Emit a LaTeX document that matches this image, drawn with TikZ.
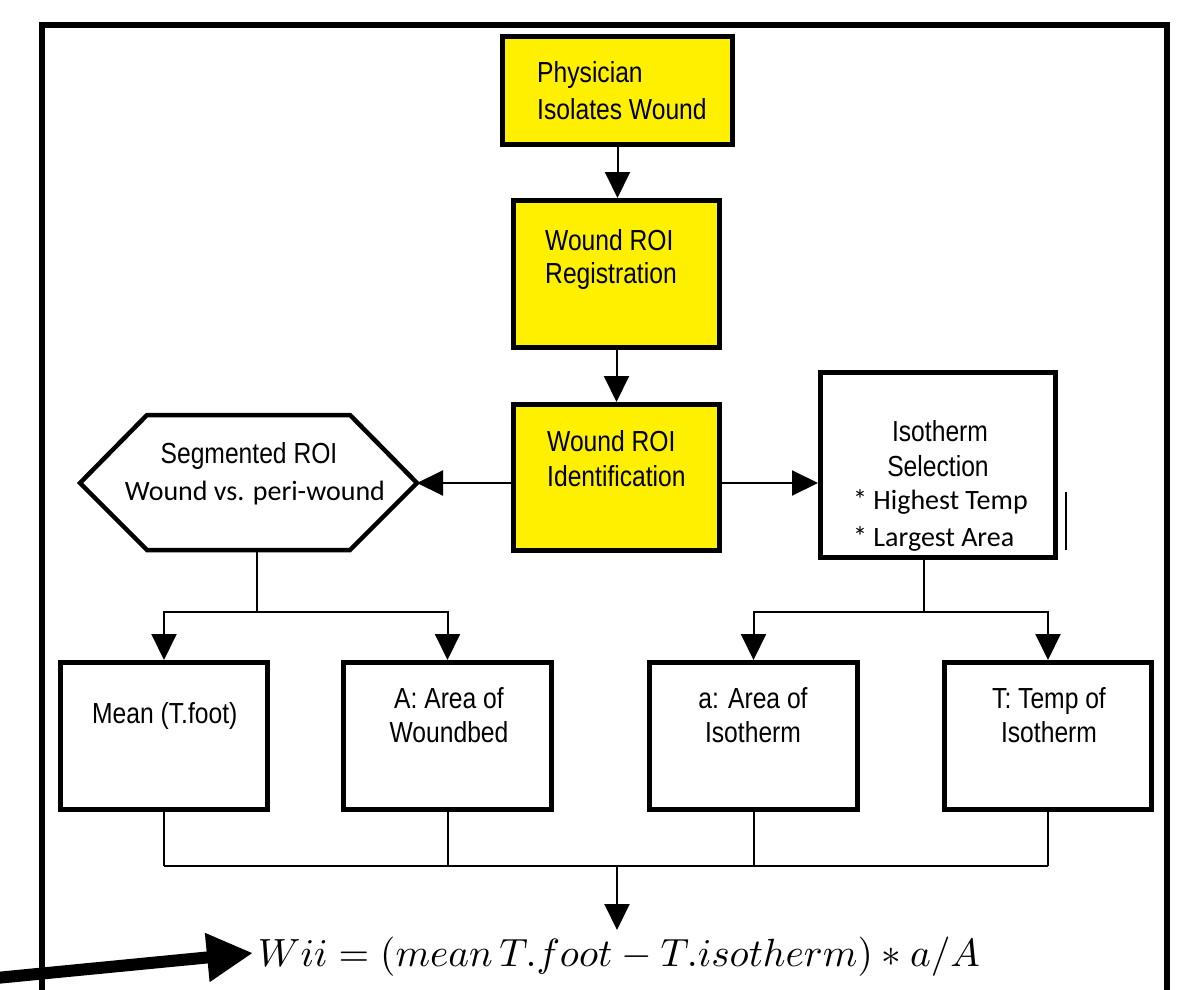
\documentclass[tikz,border=0pt]{standalone}
\usepackage{fontspec}
\setmainfont{Liberation Sans}
\newfontfamily\arialn[FakeStretch=0.85]{Liberation Sans}
\newfontfamily\calib{Carlito}
\usetikzlibrary{arrows.meta}
\definecolor{boxyellow}{RGB}{255,240,0}
\begin{document}
\begin{tikzpicture}[x=1pt,y=-1pt,
  ybox/.style={draw, line width=5pt, fill=boxyellow, inner sep=0pt},
  wbox/.style={draw, line width=5pt, fill=white, inner sep=0pt},
  txt/.style={font=\arialn\fontsize{29}{34}\selectfont, inner sep=0pt},
  ctxt/.style={font=\calib\fontsize{28}{34}\selectfont, inner sep=0pt},
  conn/.style={line width=2pt},
  arr/.style={line width=2pt, -{Triangle[length=26pt,width=25pt]}},
  bigarr/.style={line width=12pt, -{Triangle[length=46pt,width=46pt]}}
]
\useasboundingbox (0,0) rectangle (1192,990);
\fill[white] (0,0) rectangle (1192,990);
% outer frame (open at the bottom)
\draw[line width=6.5pt] (42,1000) -- (42,25) -- (1167,25) -- (1167,1000);

% yellow boxes
\node[ybox, minimum width=230pt, minimum height=108pt] (b1) at (617.5,90.5) {};
\node[ybox, minimum width=206pt, minimum height=147pt] (b2) at (616.5,274) {};
\node[ybox, minimum width=206pt, minimum height=146pt] (b3) at (616.5,477.5) {};
% isotherm box
\node[wbox, minimum width=235pt, minimum height=185pt] (iso) at (938,465) {};
% bottom boxes
\node[wbox, minimum width=207pt, minimum height=147pt] (mean) at (164,736) {};
\node[wbox, minimum width=208pt, minimum height=147pt] (area) at (447.5,736) {};
\node[wbox, minimum width=208pt, minimum height=147pt] (aiso) at (753.5,736) {};
\node[wbox, minimum width=207pt, minimum height=147pt] (tiso) at (1048,736) {};

% hexagon
\coordinate (hexL) at (80,483);
\coordinate (hexR) at (417,483);
\coordinate (hexB) at (257,550);
\draw[line width=4.5pt, line join=miter] (hexL) -- (147,415) -- (350,415) -- (hexR) -- (350,550) -- (147,550) -- cycle;

% texts
\node[txt, anchor=base west] (t1a) at (537,83) {Physician};
\node[txt, anchor=base west] (t1b) at (537,120) {Isolates Wound};
\node[txt, anchor=base west] (t2a) at (545,250) {Wound ROI};
\node[txt, anchor=base west] (t2b) at (545,283) {Registration};
\node[txt, anchor=base west] (t3a) at (547,451) {Wound ROI};
\node[txt, anchor=base west] (t3b) at (547,486) {Identification};
\node[txt, anchor=base] (h1) at (249,463) {Segmented ROI};
\node[ctxt, anchor=base] (h2) at (255,500) {Wound vs. peri-wound};
\node[txt, anchor=base] (i1) at (940,441) {Isotherm};
\node[txt, anchor=base] (i2) at (938,476) {Selection};
\node[ctxt, anchor=base west] (i3) at (853,509) {* Highest Temp};
\node[ctxt, anchor=base west] (i4) at (853,546) {* Largest Area};
\node[txt, anchor=base west] (m1) at (92,723) {Mean (T.foot)};
\node[txt, anchor=base] (a1) at (449,708) {A: Area of};
\node[txt, anchor=base] (a2) at (449,742) {Woundbed};
\node[txt, anchor=base] (s1) at (753,708) {a: Area of};
\node[txt, anchor=base] (s2) at (753,742) {Isotherm};
\node[txt, anchor=base] (r1) at (1049,708) {T: Temp of};
\node[txt, anchor=base] (r2) at (1049,742) {Isotherm};

% formula
\node[inner sep=0pt, anchor=base] (wii) at (619,966)
  {\resizebox{722pt}{!}{$Wii = (mean\,T.foot - T.isotherm) \ast a/A$}};

% small stray mark at right of isotherm box
\coordinate (markA) at (1066,492);
\coordinate (markB) at (1066,550);
\draw[line width=1.5pt] (markA) -- (markB);

% connectors
\draw[arr] (b1.south) -- (b1.south |- b2.north);
\draw[arr] (b2.south) -- (b2.south |- b3.north);
\draw[arr] (hexR -| b3.west) -- (hexR);
\draw[arr] (hexR -| b3.east) -- (hexR -| iso.west);

\coordinate (hexJ) at (257,612);
\draw[conn] (hexB) -- (hexJ);
\draw[arr] (hexJ) -| (mean.north);
\draw[arr] (hexJ) -| (area.north);

\coordinate (isoJ) at (924,612);
\draw[conn] (isoJ |- iso.south) -- (isoJ);
\draw[arr] (isoJ) -| (aiso.north);
\draw[arr] (isoJ) -| (tiso.north);

\coordinate (botJ) at (617,866);
\draw[conn] (mean.south) -- (mean.south |- botJ);
\draw[conn] (area.south) -- (area.south |- botJ);
\draw[conn] (aiso.south) -- (aiso.south |- botJ);
\draw[conn] (tiso.south) -- (tiso.south |- botJ);
\draw[conn] (mean.south |- botJ) -- (tiso.south |- botJ);
\draw[arr] (botJ) -- (botJ |- 0,930);

% big black arrow pointing at the formula
\coordinate (bigS) at (-4,978);
\coordinate (bigT) at (253,953);
\draw[bigarr] (bigS) -- (bigT);
\end{tikzpicture}
\end{document}
